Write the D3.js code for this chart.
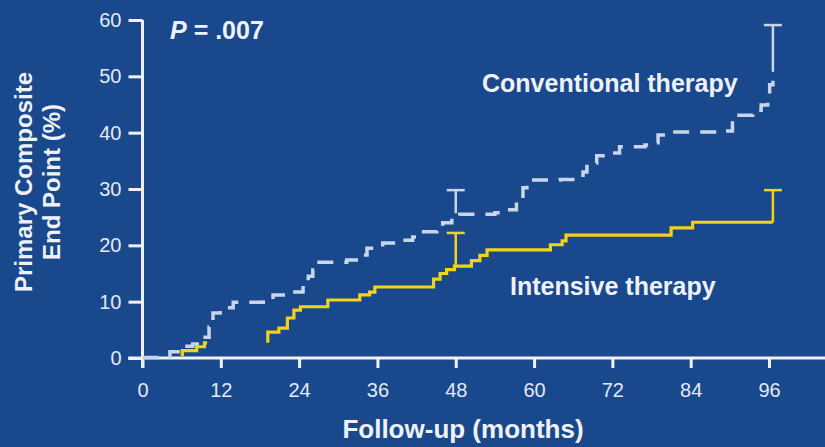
<!DOCTYPE html>
<html>
<head>
<meta charset="utf-8">
<script src="https://cdn.jsdelivr.net/npm/d3@7"></script>
<style>
    body { margin: 0; background: #19488c; }
    svg { display: block; font-family: 'Liberation Sans', Arial, sans-serif; }
</style>
</head>
<body>
<svg id="chart" width="825" height="447"></svg>
<script>
// follow-up months on x, primary composite end point (%) on y
const monthTicks = [0, 12, 24, 36, 48, 60, 72, 84, 96];
const pctTicks = [0, 10, 20, 30, 40, 50, 60];

// conventional therapy (dashed), [month, %]
const conventional = [
    [0, 0.1], [3, 0.3], [4.2, 1.1], [6, 2.1], [7.7, 2.5], [9.3, 2.8], [9.6, 3.7], [10.2, 5.5],
    [10.6, 6.7], [10.8, 8.0], [11.9, 8.9], [13.9, 9.9], [18.5, 10.4], [20, 11.2], [22.6, 11.7],
    [24.6, 13.0], [25.4, 14.5], [26.1, 15.6], [26.7, 17.0], [31.3, 17.4], [33.3, 18.3], [34.4, 19.5],
    [36.8, 20.4], [39.4, 20.9], [41.4, 21.5], [42.8, 22.4], [45.1, 23.3], [46.0, 24.0], [47.4, 24.9],
    [48.6, 25.5], [54, 25.8], [55.2, 26.3], [57.3, 27.7], [58.3, 30.2], [58.9, 31.6], [64, 31.7],
    [66.5, 32.0], [67.5, 33.0], [68.1, 34.6], [69.6, 35.9], [71.1, 36.4], [73.1, 37.5], [77, 37.8],
    [78.2, 38.2], [79.0, 39.6], [80.3, 40.1], [88.4, 40.3], [90.4, 41.7], [91.4, 43.1], [93.5, 44.0],
    [94.8, 44.9], [95.8, 46.3], [96.1, 48.5], [96.6, 50.8]
];

// intensive therapy (solid yellow), null marks the gap in the curve
const intensive = [
    [6.1, 0.3], [6.1, 1.3], [8.3, 2.0], [9.5, 2.7], [9.9, 2.7], [14, null],
    [19.2, 2.7], [19.2, 4.6], [20.9, 5.3], [22.2, 7.1], [23.2, 8.5], [24.2, 9.1], [28.4, 10.3],
    [33.3, 11.2], [34.8, 11.7], [35.6, 12.6], [44.6, 14.0], [45.6, 15.0], [46.6, 15.7], [47.8, 16.3],
    [50.4, 17.3], [51.7, 18.2], [52.8, 19.2], [62.5, 20.1], [64.3, 20.8], [64.9, 21.8], [81.0, 23.1],
    [84.3, 24.1], [96.6, 24.1]
];

// error bars: [month, from %, to %]
const conventionalBars = [[48, 25.7, 29.8], [96.6, 50.8, 59.1]];
const intensiveBars = [[48, 16.3, 22.2], [96.6, 24.1, 29.8]];

const colors = { axis: '#eef2f8', text: '#e4eaf4', conv: '#c8d5ea', int: '#f2d31a' };

const svg = d3.select('#chart');
const x = d3.scaleLinear().domain([0, 96]).range([142.5, 769]);
const y = d3.scaleLinear().domain([0, 60]).range([358, 20]);

// axes
const yAxis = svg.append('g')
    .attr('transform', `translate(${x(0)},0)`)
    .call(d3.axisLeft(y).tickValues(pctTicks).tickSize(14).tickSizeOuter(0).tickPadding(7));
const xAxis = svg.append('g')
    .attr('transform', `translate(0,${y(0)})`)
    .call(d3.axisBottom(x).tickValues(monthTicks).tickSize(10).tickSizeOuter(0).tickPadding(15));

[yAxis, xAxis].forEach((g) => {
    g.select('.domain').remove();
    g.selectAll('.tick line').attr('stroke', colors.axis).attr('stroke-width', 3);
    g.selectAll('.tick text')
        .attr('fill', colors.text)
        .style('font-size', '20px')
        .style('font-family', "'Liberation Sans', Arial, sans-serif");
});

svg.append('line')
    .attr('x1', x(-2.2)).attr('x2', x(104.6))
    .attr('y1', y(0)).attr('y2', y(0))
    .attr('stroke', colors.axis).attr('stroke-width', 3);
svg.append('line')
    .attr('x1', x(0)).attr('x2', x(0))
    .attr('y1', y(60)).attr('y2', y(-1.7))
    .attr('stroke', colors.axis).attr('stroke-width', 3);

// curves
const line = d3.line()
    .defined((d) => d[1] != null)
    .curve(d3.curveStepAfter)
    .x((d) => x(d[0]))
    .y((d) => y(d[1]));

svg.append('path').datum(conventional)
    .attr('d', line)
    .attr('fill', 'none')
    .attr('stroke', colors.conv)
    .attr('stroke-width', 3.5)
    .attr('stroke-dasharray', '16,11');

svg.append('path').datum(intensive)
    .attr('d', line)
    .attr('fill', 'none')
    .attr('stroke', colors.int)
    .attr('stroke-width', 3.2);

// error bars
const drawBars = (data, color) => {
    const g = svg.append('g').attr('stroke', color).attr('stroke-width', 2.5);
    g.selectAll('line.v').data(data).join('line')
        .attr('x1', (d) => x(d[0])).attr('x2', (d) => x(d[0]))
        .attr('y1', (d) => y(d[1])).attr('y2', (d) => y(d[2]));
    g.selectAll('line.cap').data(data).join('line')
        .attr('x1', (d) => x(d[0]) - 9).attr('x2', (d) => x(d[0]) + 9)
        .attr('y1', (d) => y(d[2])).attr('y2', (d) => y(d[2]));
};
drawBars(conventionalBars, colors.conv);
drawBars(intensiveBars, colors.int);

// labels
const label = (txt, px, py, opts = {}) =>
    svg.append('text')
        .attr('x', px).attr('y', py)
        .attr('fill', colors.axis)
        .attr('font-weight', 'bold')
        .attr('font-size', opts.size || 25)
        .attr('text-anchor', opts.anchor || 'start')
        .text(txt);

const pLabel = svg.append('text')
    .attr('x', 170).attr('y', 39)
    .attr('fill', colors.axis).attr('font-weight', 'bold').attr('font-size', 25);
pLabel.append('tspan').attr('font-style', 'italic').text('P');
pLabel.append('tspan').text(' = .007');

label('Conventional therapy', 482, 92);
label('Intensive therapy', 510, 295);
label('Follow-up (months)', 463, 438, { anchor: 'middle', size: 26 });

const yTitle = svg.append('text')
    .attr('transform', 'translate(0,182) rotate(-90)')
    .attr('fill', colors.axis).attr('font-weight', 'bold').attr('font-size', 24)
    .attr('text-anchor', 'middle');
yTitle.append('tspan').attr('x', 0).attr('y', 32).text('Primary Composite');
yTitle.append('tspan').attr('x', 0).attr('y', 60).text('End Point (%)');
</script>
</body>
</html>
